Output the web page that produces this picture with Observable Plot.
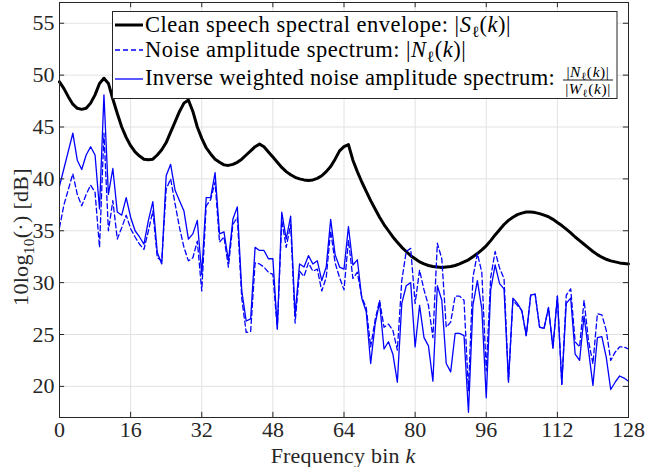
<!DOCTYPE html>
<html><head><meta charset="utf-8">
<script src="https://cdn.jsdelivr.net/npm/d3@7"></script>
<script src="https://cdn.jsdelivr.net/npm/@observablehq/plot@0.6"></script>
<style>body{margin:0;background:#fff} svg{display:block}</style>
</head><body><div id="chart"></div>
<script>
// ---- data ----
const bins = d3.range(0, 129);
const envelope = [
49.35,48.7,47.9,47.2,46.8,46.7,46.8,47.3,48.1,49.2,49.7,49.2,47.7,46.3,45.0,44.0,43.2,42.6,42.2,41.9,
41.85,41.9,42.3,42.8,43.5,44.5,45.5,46.5,47.3,47.6,46.5,45.0,43.9,43.0,42.4,41.9,41.6,41.35,41.3,41.4,
41.6,41.9,42.3,42.7,43.1,43.35,43.1,42.6,42.1,41.6,41.1,40.7,40.4,40.15,40.0,39.9,39.85,39.9,40.05,40.3,
40.7,41.2,41.9,42.7,43.1,43.3,41.8,40.7,39.7,38.8,37.9,37.1,36.3,35.6,35.0,34.4,33.9,33.4,33.0,32.6,
32.3,32.0,31.8,31.65,31.55,31.5,31.45,31.5,31.55,31.65,31.8,32.0,32.2,32.5,32.8,33.15,33.55,34.05,34.6,35.1,
35.6,36.0,36.3,36.55,36.7,36.8,36.8,36.75,36.65,36.5,36.35,36.1,35.8,35.5,35.15,34.8,34.4,34.05,33.7,33.35,
33.0,32.7,32.45,32.25,32.1,32.0,31.9,31.85,31.8];
const noise = [
35.3,37.5,39.0,40.5,38.5,37.4,38.5,39.4,38.7,33.4,44.4,35.0,37.9,34.2,35.3,36.5,35.2,34.4,33.7,33.2,
35.0,36.9,32.4,32.1,39.0,40.0,37.6,35.3,33.4,32.1,32.4,34.0,29.2,37.4,38.0,39.7,33.9,34.4,31.5,35.6,
36.3,28.5,25.2,25.3,31.9,31.8,31.5,31.0,30.8,25.5,36.0,33.4,35.6,26.1,31.1,30.6,31.9,31.1,31.3,29.2,
30.5,35.0,31.9,30.5,29.3,34.1,30.4,31.0,28.6,27.6,23.8,26.4,28.3,25.7,26.0,25.4,23.5,30.2,33.0,33.3,
28.0,31.2,29.3,27.8,24.7,33.8,32.3,25.7,26.2,28.7,28.7,28.3,19.6,30.5,32.8,31.0,21.5,30.5,33.0,31.4,
30.4,20.6,28.3,27.8,27.3,24.9,28.8,28.9,25.7,25.6,27.6,23.7,28.7,20.2,28.8,29.4,24.3,23.8,28.3,24.4,
22.2,27.0,26.9,25.4,22.5,23.3,23.8,23.8,23.6];
const weighted = [
39.3,41.0,42.7,44.4,41.8,40.9,42.3,43.1,42.3,37.1,48.1,38.5,41.0,36.8,36.5,38.2,36.3,35.0,34.4,33.7,
36.0,37.8,32.9,31.8,40.3,41.4,38.9,37.9,36.9,34.2,34.7,36.0,30.8,38.2,38.2,40.6,34.7,34.9,32.1,36.1,
37.3,29.2,26.3,26.5,33.4,33.1,33.1,32.3,32.3,25.6,36.8,34.2,36.4,26.9,31.8,31.5,32.6,31.8,32.1,30.2,
31.5,36.1,32.7,31.5,31.3,35.4,31.7,32.2,28.5,27.2,22.2,26.0,28.1,23.6,24.3,23.1,20.4,28.0,29.7,30.0,
23.8,27.8,24.7,23.9,20.5,29.7,28.3,22.2,21.4,25.1,25.1,24.9,17.5,27.8,30.2,27.5,18.9,29.3,31.7,29.9,
29.4,20.4,28.5,28.0,27.3,24.9,28.8,28.9,25.7,25.6,27.6,23.7,28.7,20.2,28.0,28.5,23.1,22.5,26.8,23.5,
20.1,24.7,24.8,22.8,19.7,20.4,21.0,20.8,20.5];
const xTicks = [0,16,32,48,64,80,96,112,128];
const yTicks = [20,25,30,35,40,45,50,55];
const xDomain = [0,128];
const yDomain = [17,57];

// ---- styles ----
const FONT = "'Liberation Serif', 'Times New Roman', serif";
const AX = "#262626";
const BLUE = "#0000ff";

const svg = Plot.plot({
  width: 647, height: 467,
  marginLeft: 59, marginRight: 19, marginTop: 2, marginBottom: 50,
  style: {fontFamily: FONT, fontSize: "22px", color: AX, background: "#fff"},
  x: {domain: xDomain},
  y: {domain: yDomain},
  marks: [
    Plot.gridX(xTicks, {stroke: "#e2e2e2", strokeOpacity: 1, strokeWidth: 1}),
    Plot.gridY(yTicks, {stroke: "#e2e2e2", strokeOpacity: 1, strokeWidth: 1}),
    Plot.line(bins, {x: d => d, y: d => envelope[d], stroke: "#000", strokeWidth: 3, strokeLinejoin: "round"}),
    Plot.line(bins, {x: d => d, y: d => noise[d], stroke: BLUE, strokeWidth: 1.3, strokeDasharray: "5,3"}),
    Plot.line(bins, {x: d => d, y: d => weighted[d], stroke: BLUE, strokeWidth: 1.3}),
    Plot.ruleX(xTicks, {x: d => d, y1: yDomain[0], y2: yDomain[0] + 0.5, stroke: AX}),
    Plot.ruleX(xTicks, {x: d => d, y1: yDomain[1] - 0.5, y2: yDomain[1], stroke: AX}),
    Plot.ruleY(yTicks, {y: d => d, x1: xDomain[0], x2: xDomain[0] + 1.15, stroke: AX}),
    Plot.ruleY(yTicks, {y: d => d, x1: xDomain[1] - 1.15, x2: xDomain[1], stroke: AX}),
    Plot.frame({stroke: AX, strokeWidth: 1}),
    Plot.axisX(xTicks, {tickSize: 0, tickPadding: 4, fontSize: 22, label: null, tickFormat: d => String(d)}),
    Plot.axisY(yTicks, {tickSize: 0, tickPadding: 5, fontSize: 22, label: null, tickFormat: d => String(d)})
  ]
});
document.getElementById("chart").appendChild(svg);
const S = d3.select(svg);

function addRich(textSel, parts, size) {
  let shifted = 0;
  for (const [t, s] of parts) {
    const ts = textSel.append("tspan").text(t);
    const want = s === "sub" ? size * 0.25 : 0;
    if (want !== shifted) { ts.attr("dy", want - shifted); shifted = want; }
    if (s === "sub") ts.style("font-size", (size * 0.7) + "px");
    if (s === "i") ts.style("font-style", "italic");
  }
}

// axis titles
const yt = S.append("text").attr("transform", "translate(28,237) rotate(-90)")
  .attr("text-anchor", "middle").attr("fill", AX)
  .style("font-family", FONT).style("font-size", "22px").style("letter-spacing", "0.3px");
addRich(yt, [["10log", ""], ["10", "sub"], ["(·) [dB]", ""]], 22);

const xt = S.append("text").attr("x", 343).attr("y", 463)
  .attr("text-anchor", "middle").attr("fill", AX)
  .style("font-family", FONT).style("font-size", "22px").style("letter-spacing", "0.2px");
addRich(xt, [["Frequency bin ", ""], ["k", "i"]], 22);

// legend
const legendSeries = [
  {stroke: "#000", width: 3, dash: null, ly: 25, base: 31.7, ls: 0.5,
   parts: [["Clean speech spectral envelope: |", ""], ["S", "i"], ["ℓ", "sub"], ["(", ""], ["k", "i"], [")|", ""]]},
  {stroke: BLUE, width: 1.3, dash: "5,3", ly: 50, base: 56.7, ls: 0.5,
   parts: [["Noise amplitude spectrum: |", ""], ["N", "i"], ["ℓ", "sub"], ["(", ""], ["k", "i"], [")|", ""]]},
  {stroke: BLUE, width: 1.3, dash: null, ly: 79, base: 85, ls: 0.3,
   parts: [["Inverse weighted noise amplitude spectrum:", ""]]}
];
const LS = 22.5;
const lg = S.append("g").style("font-family", FONT).style("font-size", LS + "px").attr("fill", "#000");
lg.append("rect").attr("x", 112.5).attr("y", 11.5).attr("width", 504.5).attr("height", 87)
  .attr("fill", "#fff").attr("stroke", AX).attr("stroke-width", 1);
for (const r of legendSeries) {
  const ln = lg.append("line").attr("x1", 115).attr("x2", 143).attr("y1", r.ly).attr("y2", r.ly)
    .attr("stroke", r.stroke).attr("stroke-width", r.width);
  if (r.dash) ln.attr("stroke-dasharray", r.dash);
  const t = lg.append("text").attr("x", 145).attr("y", r.base).attr("text-anchor", "start").style("letter-spacing", r.ls + "px");
  addRich(t, r.parts, LS);
}
// fraction |N(k)| / |W(k)|
const FS = 15.5, fx = 588;
const num = lg.append("text").attr("x", fx).attr("y", 76.5).attr("text-anchor", "middle")
  .style("font-size", FS + "px").style("letter-spacing", "0.6px");
addRich(num, [["|", ""], ["N", "i"], ["ℓ", "sub"], ["(", ""], ["k", "i"], [")|", ""]], FS);
lg.append("line").attr("x1", 563).attr("x2", 613).attr("y1", 80).attr("y2", 80).attr("stroke", "#000").attr("stroke-width", 0.9);
const den = lg.append("text").attr("x", fx).attr("y", 93.5).attr("text-anchor", "middle")
  .style("font-size", FS + "px").style("letter-spacing", "0.6px");
addRich(den, [["|", ""], ["W", "i"], ["ℓ", "sub"], ["(", ""], ["k", "i"], [")|", ""]], FS);
</script></body></html>
